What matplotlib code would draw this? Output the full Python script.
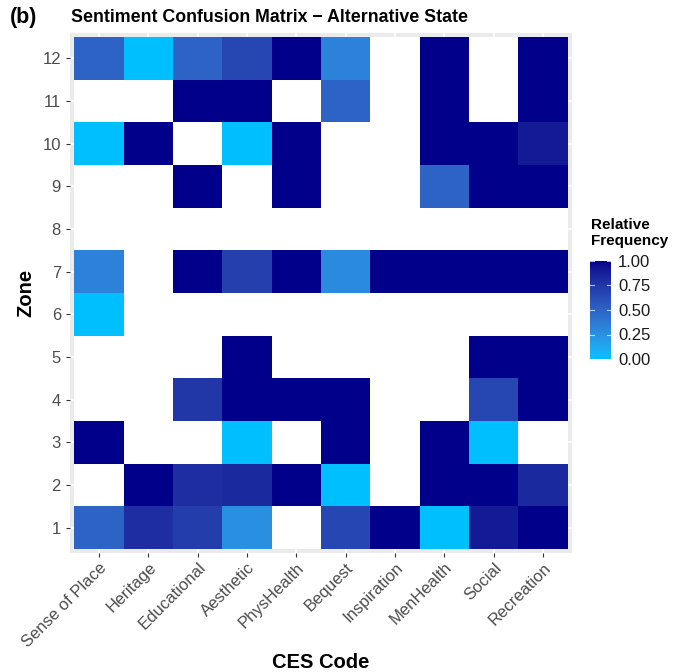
import numpy as np
import matplotlib
matplotlib.use("Agg")
import matplotlib.pyplot as plt
from matplotlib.colors import ListedColormap, to_rgb

plt.rcParams['font.family'] = ['Liberation Sans', 'DejaVu Sans']

categories = ["Sense of Place", "Heritage", "Educational", "Aesthetic", "PhysHealth",
              "Bequest", "Inspiration", "MenHealth", "Social", "Recreation"]
zones = list(range(1, 13))
nan = np.nan
# rows = zones 1..12, columns = categories
values = [
    [0.50, 0.80, 0.72, 0.25, nan, 0.67, 1.00, 0.00, 0.90, 1.00],   # 1
    [nan, 1.00, 0.80, 0.83, 1.00, 0.00, nan, 1.00, 1.00, 0.83],    # 2
    [1.00, nan, nan, 0.00, nan, 1.00, nan, 1.00, 0.00, nan],       # 3
    [nan, nan, 0.75, 1.00, 1.00, 1.00, nan, nan, 0.67, 1.00],      # 4
    [nan, nan, nan, 1.00, nan, nan, nan, nan, 1.00, 1.00],         # 5
    [0.00, nan, nan, nan, nan, nan, nan, nan, nan, nan],           # 6
    [0.33, nan, 1.00, 0.70, 1.00, 0.28, 1.00, 1.00, 1.00, 1.00],   # 7
    [nan] * 10,                                                    # 8
    [nan, nan, 1.00, nan, 1.00, nan, nan, 0.50, 1.00, 1.00],       # 9
    [0.00, 1.00, nan, 0.00, 1.00, nan, nan, 1.00, 1.00, 0.90],     # 10
    [nan, nan, 1.00, 1.00, nan, 0.50, nan, 1.00, nan, 1.00],       # 11
    [0.50, 0.00, 0.50, 0.67, 1.00, 0.33, nan, 1.00, nan, 1.00],    # 12
]
legend_ticks = [0.0, 0.25, 0.5, 0.75, 1.0]

# Lab-space gradient (like ggplot scale_fill_gradient)
def srgb_to_lab(c):
    c = np.array(c, float)
    lin = np.where(c <= 0.04045, c / 12.92, ((c + 0.055) / 1.055) ** 2.4)
    M = np.array([[0.4124, 0.3576, 0.1805], [0.2126, 0.7152, 0.0722], [0.0193, 0.1192, 0.9505]])
    xyz = M @ lin
    wp = np.array([0.95047, 1.0, 1.08883])
    t = xyz / wp
    f = np.where(t > (6/29) ** 3, np.cbrt(t), t / (3 * (6/29) ** 2) + 4/29)
    return np.array([116 * f[1] - 16, 500 * (f[0] - f[1]), 200 * (f[1] - f[2])])

def lab_to_srgb(lab):
    L, a, b = lab
    fy = (L + 16) / 116
    fx = fy + a / 500
    fz = fy - b / 200
    def finv(f):
        return f ** 3 if f > 6/29 else 3 * (6/29) ** 2 * (f - 4/29)
    wp = np.array([0.95047, 1.0, 1.08883])
    xyz = np.array([finv(fx), finv(fy), finv(fz)]) * wp
    Minv = np.array([[3.2406, -1.5372, -0.4986], [-0.9689, 1.8758, 0.0415], [0.0557, -0.2040, 1.0570]])
    lin = Minv @ xyz
    lin = np.clip(lin, 0, 1)
    c = np.where(lin <= 0.0031308, 12.92 * lin, 1.055 * lin ** (1 / 2.4) - 0.055)
    return np.clip(c, 0, 1)

lo = srgb_to_lab(to_rgb("#00BFFF"))
hi = srgb_to_lab(to_rgb("#00008B"))
cols = [lab_to_srgb(lo + (hi - lo) * t) for t in np.linspace(0, 1, 256)]
cmap = ListedColormap(cols)
cmap.set_bad("white")

data = np.ma.masked_invalid(np.array(values, float))

fig = plt.figure(figsize=(6.83, 6.72), dpi=100)
ax = fig.add_axes([70/683, 1 - 553/672, 502/683, 520/672])
ax.set_facecolor("#EBEBEB")
ax.set_axisbelow(True)
ax.grid(True, color="white", linewidth=1.1)
x = np.arange(1, len(categories) + 1)
y = np.array(zones)
mesh = ax.pcolormesh(np.arange(0.5, len(categories) + 1), np.arange(0.5, len(zones) + 1),
                     data, cmap=cmap, vmin=0, vmax=1, zorder=2)
ax.set_xlim(0.41, len(categories) + 0.59)
ax.set_ylim(0.41, len(zones) + 0.59)
ax.set_xticks(x)
ax.set_xticklabels(categories, rotation=45, ha="right", rotation_mode="anchor",
                   fontsize=12, color="#4D4D4D")
ax.set_yticks(y)
ax.set_yticklabels([str(z) for z in zones], fontsize=12, color="#4D4D4D")
ax.tick_params(axis="both", length=3, color="#333333", width=0.8)
ax.tick_params(axis="x", pad=2)
for s in ax.spines.values():
    s.set_visible(False)
ax.set_ylabel("Zone", fontsize=14.5, fontweight="bold", labelpad=5)
fig.text(321/683, 1 - 662/672, "CES Code", fontsize=14.5, fontweight="bold",
         va="center", ha="center")

fig.text(71/683, 1 - 18/672, "Sentiment Confusion Matrix \u2212 Alternative State",
         fontsize=12.8, fontweight="bold", va="center", ha="left")
fig.text(10/683, 1 - 17/672, "(b)", fontsize=15.5, fontweight="bold", va="center", ha="left")

cax = fig.add_axes([590/683, 1 - 359/672, 21/683, 98/672])
cb = fig.colorbar(mesh, cax=cax, ticks=legend_ticks)
cb.outline.set_visible(False)
cb.ax.set_yticklabels(["0.00", "0.25", "0.50", "0.75", "1.00"], fontsize=12, color="#1A1A1A")
cb.ax.tick_params(length=0, pad=5)
for t in legend_ticks:
    cb.ax.plot([0, 0.2], [t, t], color="white", lw=0.8, alpha=0.7, transform=cb.ax.get_yaxis_transform())
    cb.ax.plot([0.8, 1.0], [t, t], color="white", lw=0.8, alpha=0.7, transform=cb.ax.get_yaxis_transform())
fig.text(591/683, 1 - 233/672, "Relative\nFrequency", fontsize=11, fontweight="bold",
         va="center", ha="left", linespacing=1.1)

fig.savefig("out.png", dpi=100)
